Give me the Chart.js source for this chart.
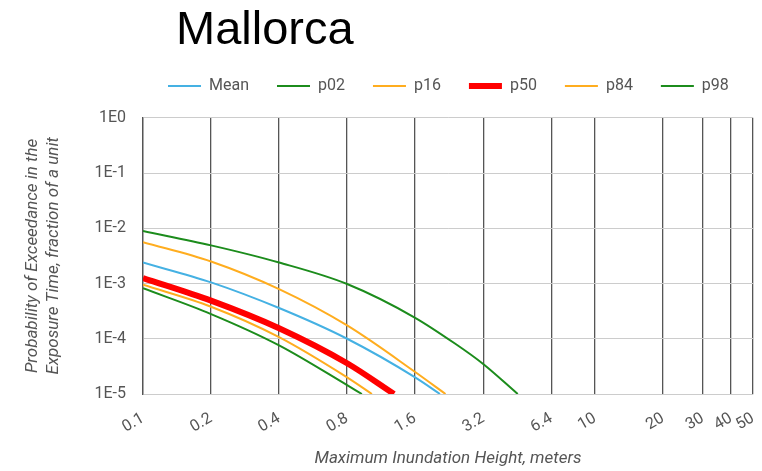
<!DOCTYPE html>
<html>
<head>
<meta charset="utf-8">
<script src="https://cdn.jsdelivr.net/npm/chart.js@4/dist/chart.umd.min.js"></script>
<style>
  body { margin: 0; background: #fff; }
  #wrap { width: 762px; height: 471px; }
</style>
</head>
<body>
<div id="wrap"><canvas id="chart" width="762" height="471"></canvas></div>
<script>
// x ticks (meters) and y ticks (powers of ten)
const heightTicks = [0.1, 0.2, 0.4, 0.8, 1.6, 3.2, 6.4, 10, 20, 30, 40, 50];
const probTicks = [1e-5, 1e-4, 1e-3, 1e-2, 1e-1, 1];

const meanX = [0.1, 0.2, 0.4, 0.8, 1.6, 2.06];
const meanY = [2.4e-3, 1.05e-3, 3.6e-4, 1.0e-4, 2.0e-5, 1e-5];
const p02X = [0.1, 0.2, 0.4, 0.8, 0.93];
const p02Y = [8.2e-4, 2.8e-4, 7.6e-5, 1.45e-5, 1e-5];
const p16X = [0.1, 0.2, 0.4, 0.8, 1.03];
const p16Y = [9.5e-4, 3.8e-4, 1.07e-4, 2.0e-5, 1e-5];
const p50X = [0.1, 0.2, 0.4, 0.8, 1.29];
const p50Y = [1.26e-3, 4.9e-4, 1.55e-4, 3.6e-5, 1e-5];
const p84X = [0.1, 0.2, 0.4, 0.8, 1.6, 2.18];
const p84Y = [5.6e-3, 2.5e-3, 7.9e-4, 1.74e-4, 2.5e-5, 1e-5];
const p98X = [0.1, 0.2, 0.4, 0.8, 1.6, 2.4, 3.2, 4.55];
const p98Y = [8.9e-3, 4.9e-3, 2.4e-3, 9.8e-4, 2.4e-4, 8.2e-5, 3.5e-5, 1e-5];

const BLUE = "#45b1e3", GREEN = "#1c8c1c", ORANGE = "#ffad1f", RED = "#ff0000";

function pts(xs, ys) {
    return xs.map((x, i) => ({x: x, y: ys[i]}));
}

function series(label, xs, ys, color, width) {
    return {
        label: label,
        data: pts(xs, ys),
        borderColor: color,
        backgroundColor: color,
        borderWidth: width,
        pointRadius: 0,
        cubicInterpolationMode: "monotone",
        clip: 0
    };
}

// put title and legend where the original has them
const placeBoxes = {
    id: "placeBoxes",
    afterLayout(chart) {
        chart.titleBlock.left = 176;
        chart.legend.left = 140;
        chart.legend.top = 86 - 28 - 8;
    }
};

const tickFont = {family: "Roboto", size: 16};
const axisTitleFont = {family: "Roboto", size: 17, style: "italic", lineHeight: 1.2};

new Chart(document.getElementById("chart"), {
    type: "line",
    data: {
        datasets: [
            series("Mean", meanX, meanY, BLUE, 2),
            series("p02", p02X, p02Y, GREEN, 2),
            series("p16", p16X, p16Y, ORANGE, 2),
            series("p50", p50X, p50Y, RED, 6),
            series("p84", p84X, p84Y, ORANGE, 2),
            series("p98", p98X, p98Y, GREEN, 2)
        ]
    },
    options: {
        responsive: false,
        animation: false,
        devicePixelRatio: 1,
        layout: {padding: 0},
        plugins: {
            title: {
                display: true,
                text: "Mallorca",
                align: "start",
                color: "#000",
                font: {family: "Liberation Sans", size: 47, weight: "normal", lineHeight: 1.2},
                padding: {top: 2.4, bottom: 5}
            },
            legend: {
                position: "top",
                align: "start",
                labels: {
                    usePointStyle: true,
                    pointStyle: "line",
                    pointStyleWidth: 33,
                    color: "#555",
                    font: tickFont,
                    padding: 28
                }
            },
            tooltip: {enabled: false}
        },
        scales: {
            x: {
                type: "logarithmic",
                min: 0.1,
                max: 50,
                afterBuildTicks: (scale) => {
                    scale.ticks = heightTicks.map(v => ({value: v}));
                },
                afterFit: (scale) => {
                    scale.height = 77;
                    scale.paddingLeft = 0;
                    scale.paddingRight = 9;
                },
                ticks: {
                    autoSkip: false,
                    minRotation: 30,
                    maxRotation: 30,
                    padding: 15,
                    color: "#555",
                    font: tickFont,
                    callback: (v) => String(v)
                },
                grid: {color: "#555", lineWidth: 1.3, drawTicks: false},
                border: {color: "#ccc", width: 1},
                title: {
                    display: true,
                    text: "Maximum Inundation Height, meters",
                    color: "#555",
                    font: axisTitleFont,
                    padding: {top: 0, bottom: 2}
                }
            },
            y: {
                type: "logarithmic",
                min: 1e-5,
                max: 1,
                afterBuildTicks: (scale) => {
                    scale.ticks = probTicks.map(v => ({value: v}));
                },
                afterFit: (scale) => {
                    scale.width = 143;
                    scale.paddingTop = 0;
                    scale.paddingBottom = 0;
                },
                ticks: {
                    padding: 17,
                    color: "#555",
                    font: tickFont,
                    callback: (v) => "1E" + Math.round(Math.log10(v))
                },
                grid: {color: "#ccc", lineWidth: 1, drawTicks: false},
                border: {color: "#555", width: 1.3},
                title: {
                    display: true,
                    text: ["Probability of Exceedance in the", "Exposure Time, fraction of a unit"],
                    color: "#555",
                    font: axisTitleFont,
                    padding: {top: 23, bottom: 10}
                }
            }
        }
    },
    plugins: [placeBoxes]
});
</script>
</body>
</html>
